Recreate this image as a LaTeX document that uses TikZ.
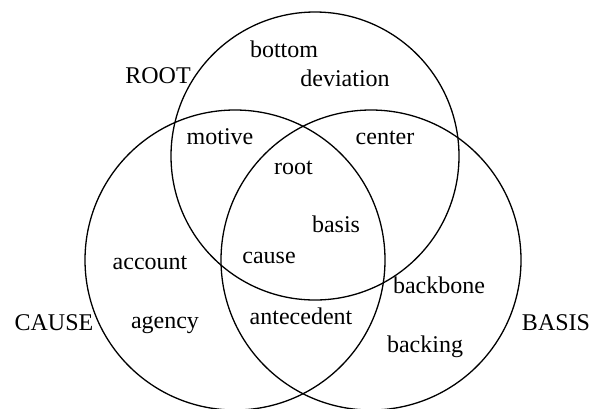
\documentclass[tikz,border=0pt]{standalone}
\usepackage{fontspec}
\setmainfont{Liberation Serif}
\begin{document}
\begin{tikzpicture}[x=0.5pt,y=-0.5pt,
  ring/.style={draw=black,line width=0.65pt},
  lbl/.style={anchor=base,inner sep=0pt,font=\fontsize{12}{14}\selectfont}]
\useasboundingbox (0,0) rectangle (592,408);
\draw[ring] (315,156) circle[radius=144];
\draw[ring] (235,260) circle[radius=150];
\draw[ring] (371,260) circle[radius=150];
\node[lbl] (ROOT) at (158,83) {ROOT};
\node[lbl] (CAUSE) at (54,330) {CAUSE};
\node[lbl] (BASIS) at (556,330) {BASIS};
\node[lbl] (bottom) at (284,57) {bottom};
\node[lbl] (deviation) at (345,86) {deviation};
\node[lbl] (motive) at (220,144) {motive};
\node[lbl] (center) at (385,144) {center};
\node[lbl] (root) at (293.5,174) {root};
\node[lbl] (basis) at (336,232) {basis};
\node[lbl] (cause) at (269,263) {cause};
\node[lbl] (account) at (150,269) {account};
\node[lbl] (agency) at (165,328) {agency};
\node[lbl] (antecedent) at (301,324) {antecedent};
\node[lbl] (backbone) at (439,293) {backbone};
\node[lbl] (backing) at (425,352) {backing};
\end{tikzpicture}
\end{document}
